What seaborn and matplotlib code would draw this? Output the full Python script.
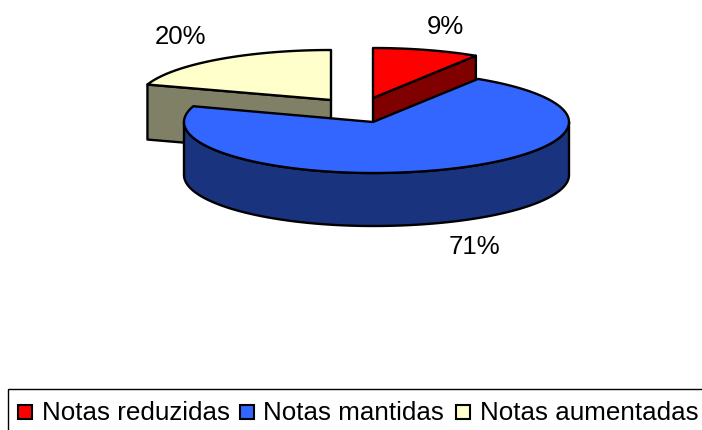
import numpy as np
import matplotlib
matplotlib.use("Agg")
import matplotlib.pyplot as plt
from matplotlib.patches import Rectangle
import seaborn as sns

# ── Data ──────────────────────────────────────────────────────────────────────
categories = ["Notas reduzidas", "Notas mantidas", "Notas aumentadas"]
percentages = [9, 71, 20]

top_colors = ["#FF0000", "#3366FF", "#FFFFCC"]
side_colors = ["#800000", "#19337F", "#808066"]

# ── Layout (pixels) ───────────────────────────────────────────────────────────
W, H = 702, 431
apex = [(373, 99), (373, 123), (331, 101)]
rx_right = [192, 196, 193]
rx_left = [192, 189, 193]
ry = [50, 51, 50]
depth = [53, 53, 55]
label_pos = [(445, 27), (474, 247), (180, 37)]
legend_square_x = [18, 240, 456]
legend_text_x = [42, 263, 480]

sns.set_theme(style="white", font="Liberation Sans")
fig, ax = plt.subplots(figsize=(W / 100, H / 100), dpi=100)
ax.set_position([0, 0, 1, 1])
ax.set_xlim(0, W)
ax.set_ylim(H, 0)
ax.axis("off")

# slice angles come from the values, clockwise from twelve o'clock
edges = np.cumsum([0] + percentages) / 100 * 2 * np.pi


def rim(i, t):
    s = np.sin(t)
    r = np.where(s >= 0, rx_right[i], rx_left[i])
    return apex[i][0] + r * s, apex[i][1] - ry[i] * np.cos(t)


def radial_face(i, t, color):
    x, y = rim(i, t)
    ax_, ay = apex[i]
    d = depth[i]
    ax.fill([ax_, x, x, ax_], [ay, y, y + d, ay + d], facecolor=color,
            edgecolor="black", lw=1.7, joinstyle="round")


def top_face(i, color):
    t = np.linspace(edges[i], edges[i + 1], 200)
    x, y = rim(i, t)
    ax.fill(np.r_[apex[i][0], x], np.r_[apex[i][1], y], facecolor=color,
            edgecolor="black", lw=1.7, joinstyle="round")


def outer_face(i, color):
    t = np.linspace(max(edges[i], np.pi / 2), min(edges[i + 1], 3 * np.pi / 2), 200)
    x, y = rim(i, t)
    ax.fill(np.r_[x, x[::-1]], np.r_[y, (y + depth[i])[::-1]], facecolor=color,
            edgecolor="black", lw=1.7, joinstyle="round")


# back to front: aumentadas, reduzidas, mantidas
radial_face(2, edges[2], side_colors[2])
top_face(2, top_colors[2])
radial_face(0, edges[1], side_colors[0])
top_face(0, top_colors[0])
outer_face(1, side_colors[1])
top_face(1, top_colors[1])

for value, (x, y) in zip(percentages, label_pos):
    ax.text(x, y, f"{value}%", fontsize=18.5, color="black", ha="center", va="center")

# ── Legend box, runs off the right and bottom edges ───────────────────────────
ax.add_patch(Rectangle((8, 390), W + 20, 60, facecolor="white", edgecolor="black", lw=1))
for name, color, sx, tx in zip(categories, top_colors, legend_square_x, legend_text_x):
    ax.add_patch(Rectangle((sx, 406), 14, 14, facecolor=color, edgecolor="black", lw=1.5))
    ax.text(tx, 413, name, fontsize=18.7, color="black", ha="left", va="center")

fig.savefig("out.png", dpi=100)
